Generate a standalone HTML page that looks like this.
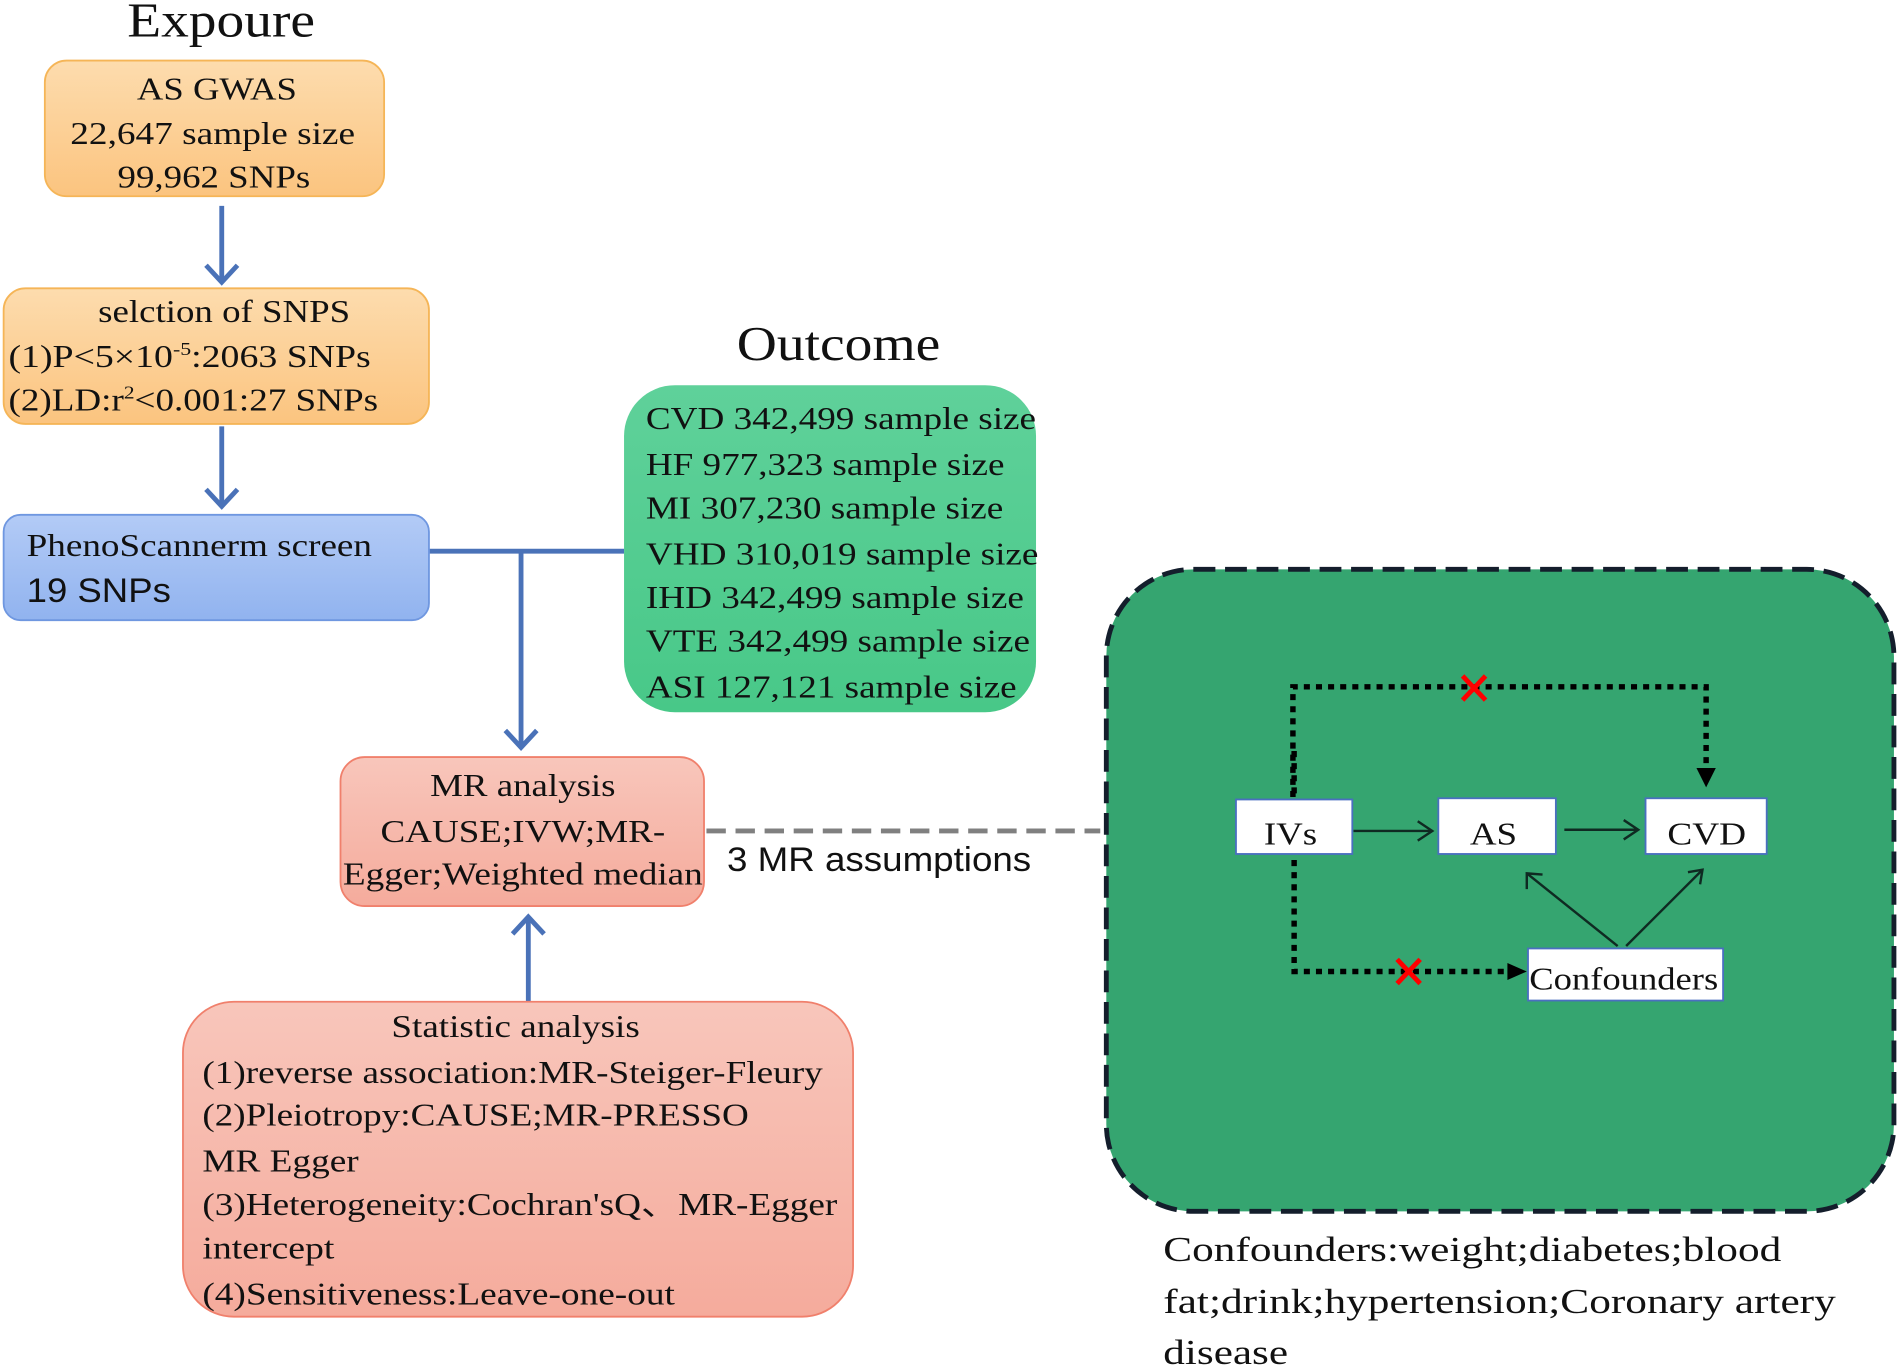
<!DOCTYPE html>
<html><head><meta charset="utf-8"><style>
html,body{margin:0;padding:0;background:#fff;}
svg{display:block;}
text{font-family:"Liberation Serif",serif;fill:#111;}
.s{font-family:"Liberation Sans",sans-serif;}
</style></head><body>
<svg width="1900" height="1370" viewBox="0 0 1568 1131" preserveAspectRatio="none" xmlns="http://www.w3.org/2000/svg">
<defs>
<linearGradient id="og" x1="0" y1="0" x2="0" y2="1"><stop offset="0" stop-color="#fddcae"/><stop offset="1" stop-color="#fbc47f"/></linearGradient>
<linearGradient id="bg" x1="0" y1="0" x2="0" y2="1"><stop offset="0" stop-color="#b3cbf6"/><stop offset="1" stop-color="#91b3ef"/></linearGradient>
<linearGradient id="pg" x1="0" y1="0" x2="0" y2="1"><stop offset="0" stop-color="#f8c6bb"/><stop offset="1" stop-color="#f5ab9c"/></linearGradient>
<linearGradient id="gg" x1="0" y1="0" x2="0" y2="1"><stop offset="0" stop-color="#5fd19a"/><stop offset="1" stop-color="#48c888"/></linearGradient>
</defs>
<text x="105" y="30" font-size="40" textLength="155" lengthAdjust="spacingAndGlyphs">Expoure</text>
<rect x="37" y="50" width="280" height="112" rx="18" fill="url(#og)" stroke="#f5b557" stroke-width="1.5"/>
<g font-size="26" lengthAdjust="spacingAndGlyphs">
<text x="113" y="82" textLength="132" lengthAdjust="spacingAndGlyphs">AS GWAS</text>
<text x="58" y="119" textLength="235" lengthAdjust="spacingAndGlyphs">22,647 sample size</text>
<text x="97" y="155" textLength="159" lengthAdjust="spacingAndGlyphs">99,962 SNPs</text>
</g>
<g stroke="#4a72b8" stroke-width="4" fill="none">
<line x1="183" y1="170" x2="183" y2="233"/><path d="M170,219 L183,233 L196,219"/>
<line x1="183" y1="352" x2="183" y2="418"/><path d="M170,404 L183,418 L196,404"/>
<line x1="354" y1="455" x2="515" y2="455"/>
<line x1="430" y1="455" x2="430" y2="617"/><path d="M417,603 L430,617 L443,603"/>
<line x1="436" y1="828" x2="436" y2="757"/><path d="M423,771 L436,757 L449,771"/>
</g>
<rect x="3" y="238" width="351" height="112" rx="18" fill="url(#og)" stroke="#f5b557" stroke-width="1.5"/>
<text x="81" y="266" font-size="26" textLength="208" lengthAdjust="spacingAndGlyphs">selction of SNPS</text>
<text x="7" y="303" font-size="26" textLength="299" lengthAdjust="spacingAndGlyphs">(1)P&lt;5×10<tspan font-size="15" dy="-10">-5</tspan><tspan dy="10">:2063 SNPs</tspan></text>
<text x="7" y="339" font-size="26" textLength="305" lengthAdjust="spacingAndGlyphs">(2)LD:r<tspan font-size="15" dy="-10">2</tspan><tspan dy="10">&lt;0.001:27 SNPs</tspan></text>
<rect x="3" y="425" width="351" height="87" rx="14" fill="url(#bg)" stroke="#6f97e0" stroke-width="1.5"/>
<text x="22" y="459" font-size="26" textLength="285" lengthAdjust="spacingAndGlyphs">PhenoScannerm screen</text>
<text x="22" y="497" font-size="28" class="s" textLength="119" lengthAdjust="spacingAndGlyphs">19 SNPs</text>
<text x="608" y="297" font-size="40" textLength="168" lengthAdjust="spacingAndGlyphs">Outcome</text>
<rect x="515" y="318" width="340" height="270" rx="42" fill="url(#gg)"/>
<g font-size="26">
<text x="533" y="354" textLength="322" lengthAdjust="spacingAndGlyphs">CVD 342,499 sample size</text>
<text x="533" y="392" textLength="296" lengthAdjust="spacingAndGlyphs">HF 977,323 sample size</text>
<text x="533" y="428" textLength="295" lengthAdjust="spacingAndGlyphs">MI 307,230 sample size</text>
<text x="533" y="466" textLength="324" lengthAdjust="spacingAndGlyphs">VHD 310,019 sample size</text>
<text x="533" y="502" textLength="312" lengthAdjust="spacingAndGlyphs">IHD 342,499 sample size</text>
<text x="533" y="538" textLength="317" lengthAdjust="spacingAndGlyphs">VTE 342,499 sample size</text>
<text x="533" y="576" textLength="306" lengthAdjust="spacingAndGlyphs">ASI 127,121 sample size</text>
</g>
<rect x="281" y="625" width="300" height="123" rx="20" fill="url(#pg)" stroke="#f0806c" stroke-width="1.5"/>
<text x="355" y="657" font-size="26" textLength="153" lengthAdjust="spacingAndGlyphs">MR analysis</text>
<text x="314" y="695" font-size="26" textLength="235" lengthAdjust="spacingAndGlyphs">CAUSE;IVW;MR-</text>
<text x="283" y="730" font-size="26" textLength="297" lengthAdjust="spacingAndGlyphs">Egger;Weighted median</text>
<line x1="583" y1="686" x2="908" y2="686" stroke="#808080" stroke-width="4" stroke-dasharray="16,8"/>
<text x="600" y="719" font-size="28" class="s" textLength="251" lengthAdjust="spacingAndGlyphs">3 MR assumptions</text>
<rect x="151" y="827" width="553" height="260" rx="42" fill="url(#pg)" stroke="#f0806c" stroke-width="1.5"/>
<g font-size="26">
<text x="323" y="856" textLength="205" lengthAdjust="spacingAndGlyphs">Statistic analysis</text>
<text x="167" y="894" textLength="512" lengthAdjust="spacingAndGlyphs">(1)reverse association:MR-Steiger-Fleury</text>
<text x="167" y="929" textLength="451" lengthAdjust="spacingAndGlyphs">(2)Pleiotropy:CAUSE;MR-PRESSO</text>
<text x="167" y="967" textLength="129" lengthAdjust="spacingAndGlyphs">MR Egger</text>
<text x="167" y="1003" textLength="524" lengthAdjust="spacingAndGlyphs">(3)Heterogeneity:Cochran'sQ、MR-Egger</text>
<text x="167" y="1039" textLength="109" lengthAdjust="spacingAndGlyphs">intercept</text>
<text x="167" y="1077" textLength="390" lengthAdjust="spacingAndGlyphs">(4)Sensitiveness:Leave-one-out</text>
</g>
<rect x="913" y="470" width="650" height="530" rx="72" fill="#35a570" stroke="#141e2c" stroke-width="4" stroke-dasharray="18,8"/>
<g stroke="#000" stroke-width="4.5" fill="none" stroke-dasharray="5,5">
<path d="M1067,658 L1067,567 L1408,567 L1408,638"/>
<path d="M1068,620 L1068,802 L1246,802"/>
</g>
<path d="M1400,634 L1408,650 L1416,634Z" fill="#000"/>
<path d="M1244,795 L1260,802 L1244,809Z" fill="#000"/>
<g stroke="#f00" stroke-width="4"><line x1="1207" y1="558" x2="1226" y2="578"/><line x1="1226" y1="558" x2="1207" y2="578"/>
<line x1="1153" y1="792" x2="1172" y2="812"/><line x1="1172" y1="792" x2="1153" y2="812"/></g>
<g stroke="#0f2a22" stroke-width="2" fill="none">
<line x1="1117" y1="686" x2="1182" y2="686"/><path d="M1170,678 L1182,686 L1170,694"/>
<line x1="1291" y1="685" x2="1352" y2="685"/><path d="M1340,677 L1352,685 L1340,693"/>
<line x1="1335" y1="781" x2="1260" y2="721"/><path d="M1260,734 L1260,721 L1273,722"/>
<line x1="1342" y1="781" x2="1405" y2="718"/><path d="M1393,720 L1405,718 L1403,730"/>
</g>
<g fill="#fff" stroke="#4a6fc0" stroke-width="1.5">
<rect x="1020" y="660" width="96" height="45"/>
<rect x="1187" y="659" width="97" height="46"/>
<rect x="1358" y="659" width="100" height="46"/>
<rect x="1261" y="783" width="161" height="43"/>
</g>
<text x="1043" y="697" font-size="26" textLength="44" lengthAdjust="spacingAndGlyphs">IVs</text>
<text x="1213" y="697" font-size="26" textLength="39" lengthAdjust="spacingAndGlyphs">AS</text>
<text x="1376" y="697" font-size="26" textLength="65" lengthAdjust="spacingAndGlyphs">CVD</text>
<text x="1262" y="817" font-size="26" textLength="156" lengthAdjust="spacingAndGlyphs">Confounders</text>
<g font-size="29">
<text x="960" y="1041" textLength="510" lengthAdjust="spacingAndGlyphs">Confounders:weight;diabetes;blood</text>
<text x="960" y="1084" textLength="555" lengthAdjust="spacingAndGlyphs">fat;drink;hypertension;Coronary artery</text>
<text x="960" y="1126" textLength="103" lengthAdjust="spacingAndGlyphs">disease</text>
</g>
</svg>
</body></html>
